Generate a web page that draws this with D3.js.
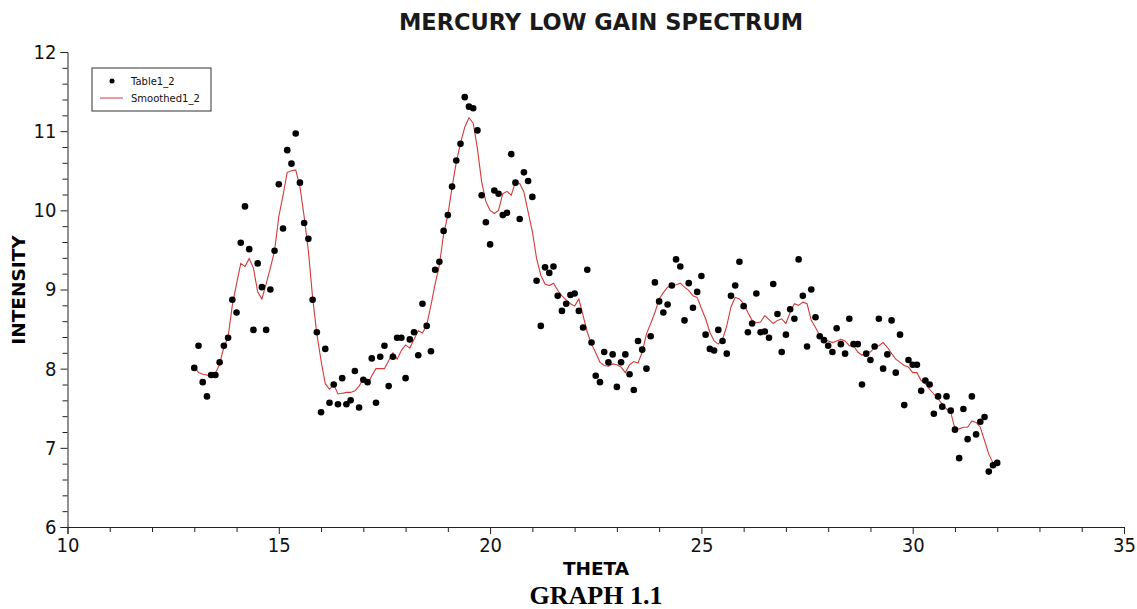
<!DOCTYPE html>
<html>
<head>
<meta charset="utf-8">
<script src="https://cdn.jsdelivr.net/npm/d3@7"></script>
<style>
  body { margin: 0; background: #fff; }
  svg { display: block; }
</style>
</head>
<body>
<main></main>
<script>
// data
let theta = [
  13.0, 13.1, 13.2, 13.3, 13.4, 13.5, 13.6, 13.7, 13.8, 13.9,
  14.0, 14.1, 14.2, 14.3, 14.4, 14.5, 14.6, 14.7, 14.8, 14.9,
  15.0, 15.1, 15.2, 15.3, 15.4, 15.5, 15.6, 15.7, 15.8, 15.9,
  16.0, 16.1, 16.2, 16.3, 16.4, 16.5, 16.6, 16.7, 16.8, 16.9,
  17.0, 17.1, 17.2, 17.3, 17.4, 17.5, 17.6, 17.7, 17.8, 17.9,
  18.0, 18.1, 18.2, 18.3, 18.4, 18.5, 18.6, 18.7, 18.8, 18.9,
  19.0, 19.1, 19.2, 19.3, 19.4, 19.5, 19.6, 19.7, 19.8, 19.9,
  20.0, 20.1, 20.2, 20.3, 20.4, 20.5, 20.6, 20.7, 20.8, 20.9,
  21.0, 21.1, 21.2, 21.3, 21.4, 21.5, 21.6, 21.7, 21.8, 21.9,
  22.0, 22.1, 22.2, 22.3, 22.4, 22.5, 22.6, 22.7, 22.8, 22.9,
  23.0, 23.1, 23.2, 23.3, 23.4, 23.5, 23.6, 23.7, 23.8, 23.9,
  24.0, 24.1, 24.2, 24.3, 24.4, 24.5, 24.6, 24.7, 24.8, 24.9,
  25.0, 25.1, 25.2, 25.3, 25.4, 25.5, 25.6, 25.7, 25.8, 25.9,
  26.0, 26.1, 26.2, 26.3, 26.4, 26.5, 26.6, 26.7, 26.8, 26.9,
  27.0, 27.1, 27.2, 27.3, 27.4, 27.5, 27.6, 27.7, 27.8, 27.9,
  28.0, 28.1, 28.2, 28.3, 28.4, 28.5, 28.6, 28.7, 28.8, 28.9,
  29.0, 29.1, 29.2, 29.3, 29.4, 29.5, 29.6, 29.7, 29.8, 29.9,
  30.0, 30.1, 30.2, 30.3, 30.4, 30.5, 30.6, 30.7, 30.8, 30.9,
  31.0, 31.1, 31.2, 31.3, 31.4, 31.5, 31.6, 31.7, 31.8, 31.9,
  32.0
]

// Table1_2 (dots)
let table1_2 = [
  8.01, 8.29, 7.83, 7.65, 7.92, 7.92, 8.08, 8.29, 8.39, 8.87,
  8.71, 9.59, 10.05, 9.51, 8.49, 9.33, 9.03, 8.49, 9.00, 9.49,
  10.33, 9.77, 10.76, 10.59, 10.97, 10.35, 9.84, 9.64, 8.87, 8.46,
  7.45, 8.25, 7.57, 7.80, 7.55, 7.88, 7.55, 7.60, 7.97, 7.51,
  7.86, 7.83, 8.13, 7.57, 8.15, 8.29, 7.78, 8.15, 8.39, 8.39,
  7.88, 8.37, 8.46, 8.17, 8.82, 8.54, 8.22, 9.25, 9.35, 9.74,
  9.94, 10.30, 10.63, 10.84, 11.43, 11.31, 11.29, 11.01, 10.19, 9.85,
  9.57, 10.25, 10.21, 9.94, 9.97, 10.71, 10.35, 9.89, 10.48, 10.37,
  10.17, 9.11, 8.54, 9.28, 9.21, 9.29, 8.92, 8.73, 8.82, 8.93,
  8.95, 8.73, 8.52, 9.25, 8.33, 7.91, 7.83, 8.21, 8.08, 8.18,
  7.77, 8.08, 8.18, 7.93, 7.73, 8.35, 8.24, 8.00, 8.41, 9.09,
  8.85, 8.71, 8.81, 9.05, 9.38, 9.29, 8.61, 9.08, 8.77, 8.97,
  9.17, 8.43, 8.25, 8.23, 8.49, 8.35, 8.19, 8.92, 9.05, 9.35,
  8.79, 8.46, 8.57, 8.95, 8.46, 8.47, 8.39, 9.07, 8.69, 8.21,
  8.43, 8.75, 8.63, 9.38, 8.92, 8.28, 9.00, 8.65, 8.41, 8.36,
  8.29, 8.21, 8.51, 8.31, 8.19, 8.63, 8.31, 8.31, 7.80, 8.19,
  8.11, 8.28, 8.63, 8.00, 8.18, 8.61, 7.95, 8.43, 7.54, 8.11,
  8.05, 8.05, 7.72, 7.85, 7.80, 7.43, 7.65, 7.52, 7.65, 7.47,
  7.23, 6.87, 7.49, 7.11, 7.65, 7.17, 7.33, 7.39, 6.70, 6.78,
  6.81
]

// Smoothed1_2 (red line)
let smoothed1_2 = [
  8.03, 7.95, 7.93, 7.92, 7.89, 7.94, 8.06, 8.27, 8.40, 8.80,
  9.07, 9.33, 9.29, 9.39, 9.27, 8.97, 8.88, 9.07, 9.27, 9.49,
  9.92, 10.19, 10.48, 10.50, 10.51, 10.30, 9.92, 9.49, 8.90, 8.44,
  8.10, 7.81, 7.74, 7.80, 7.68, 7.69, 7.70, 7.70, 7.72, 7.78,
  7.87, 7.80, 7.91, 8.00, 8.00, 8.00, 8.10, 8.20, 8.12, 8.23,
  8.30, 8.26, 8.37, 8.48, 8.45, 8.55, 8.80, 9.07, 9.31, 9.70,
  9.94, 10.29, 10.61, 10.85, 11.05, 11.17, 11.10, 10.78, 10.36, 10.11,
  10.00, 9.96, 10.00, 10.21, 10.24, 10.19, 10.36, 10.34, 10.23, 9.98,
  9.73, 9.39, 9.18, 9.07, 9.05, 9.08, 8.99, 8.92, 8.87, 8.82,
  8.79, 8.88, 8.67, 8.46, 8.31, 8.20, 8.08, 8.04, 8.03, 8.06,
  8.05, 8.02, 7.95, 8.05, 8.09, 8.07, 8.21, 8.44, 8.57, 8.71,
  8.88, 8.96, 9.03, 9.05, 9.06, 9.08, 9.03, 8.99, 8.92, 8.90,
  8.76, 8.63, 8.46, 8.35, 8.31, 8.37, 8.54, 8.78, 8.90, 8.88,
  8.82, 8.71, 8.61, 8.58, 8.59, 8.67, 8.62, 8.57, 8.61, 8.63,
  8.57, 8.71, 8.82, 8.80, 8.84, 8.82, 8.61, 8.52, 8.42, 8.37,
  8.35, 8.33, 8.35, 8.37, 8.35, 8.29, 8.29, 8.21, 8.17, 8.21,
  8.21, 8.27, 8.29, 8.33, 8.27, 8.19, 8.12, 8.08, 8.04, 8.02,
  7.95, 7.95, 7.85, 7.81, 7.74, 7.68, 7.62, 7.55, 7.49, 7.45,
  7.24, 7.24, 7.26, 7.26, 7.34, 7.32, 7.26, 7.09, 6.92, 6.81,
  6.80
]

let xTicks = [10, 15, 20, 25, 30, 35]
let yTicks = [6, 7, 8, 9, 10, 11, 12]
let seriesNames = ["Table1_2", "Smoothed1_2"]

let width = 1137
let height = 609
let lineColor = "#d33b3b"
let tickFont = "'DejaVu Sans Condensed', 'DejaVu Sans', sans-serif"

let svg = d3.select('main')
    .append('svg')
    .attr('width', width)
    .attr('height', height)

let x = d3.scaleLinear().domain([10, 35]).range([67.5, 1124])
let y = d3.scaleLinear().domain([6, 12]).range([527, 52])

// x axis
let xAxis = svg.append("g")
    .attr("transform", "translate(0," + y(6) + ")")
    .call(d3.axisBottom(x).tickValues(xTicks).tickSize(7).tickPadding(4).tickFormat(d3.format("d")))
xAxis.append("g")
    .call(d3.axisBottom(x).tickValues(d3.range(10, 36, 1).filter(function (d) { return d % 5 != 0 })).tickSize(5).tickFormat(""))
    .select(".domain").remove()

// y axis
let yAxis = svg.append("g")
    .attr("transform", "translate(" + x(10) + ",0)")
    .call(d3.axisLeft(y).tickValues(yTicks).tickSize(7).tickPadding(4).tickFormat(d3.format("d")))
yAxis.append("g")
    .call(d3.axisLeft(y).tickValues(d3.range(6, 12, 0.2).filter(function (d) { return Math.abs(d - Math.round(d)) > 0.01 })).tickSize(5).tickFormat(""))
    .select(".domain").remove()

svg.selectAll(".domain, .tick line")
    .attr("stroke", "#222")
    .attr("stroke-width", 1)
svg.selectAll(".tick text")
    .attr("fill", "#111")
    .style("font-family", tickFont)
    .style("font-size", "20px")

// smoothed line
let pts = theta.map(function (t, i) { return [t, table1_2[i], smoothed1_2[i]] })

let line = d3.line()
    .x(function (d) { return x(d[0]) })
    .y(function (d) { return y(d[2]) })

svg.append("path")
    .datum(pts)
    .attr("d", line)
    .attr("fill", "none")
    .attr("stroke", lineColor)
    .attr("stroke-width", 1.1)

// dots
svg.append("g")
    .selectAll("circle")
    .data(pts)
    .enter()
    .append("circle")
    .attr("cx", function (d) { return x(d[0]) })
    .attr("cy", function (d) { return y(d[1]) })
    .attr("r", 3.3)
    .style("fill", "#000")

// titles
svg.append("text")
    .attr("x", 601)
    .attr("y", 30)
    .attr("text-anchor", "middle")
    .style("font-family", "'DejaVu Sans', sans-serif")
    .style("font-weight", "bold")
    .style("font-size", "22.5px")
    .attr("fill", "#1a1a1a")
    .text("MERCURY LOW GAIN SPECTRUM")

svg.append("text")
    .attr("x", 596)
    .attr("y", 575)
    .attr("text-anchor", "middle")
    .style("font-family", "'DejaVu Sans', sans-serif")
    .style("font-weight", "bold")
    .style("font-size", "18.5px")
    .text("THETA")

svg.append("text")
    .attr("transform", "translate(25,290) rotate(-90)")
    .attr("text-anchor", "middle")
    .style("font-family", "'DejaVu Sans', sans-serif")
    .style("font-weight", "bold")
    .style("font-size", "18.5px")
    .text("INTENSITY")

svg.append("text")
    .attr("x", 596)
    .attr("y", 604)
    .attr("text-anchor", "middle")
    .style("font-family", "'Liberation Serif', 'Times New Roman', serif")
    .style("font-weight", "bold")
    .style("font-size", "26px")
    .text("GRAPH 1.1")

// legend
let legend = svg.append("g")
    .attr("transform", "translate(92,68)")

legend.append("rect")
    .attr("width", 119)
    .attr("height", 43)
    .attr("fill", "#fff")
    .attr("stroke", "#333")
    .attr("stroke-width", 1)

legend.append("circle")
    .attr("cx", 20)
    .attr("cy", 13)
    .attr("r", 2.5)
    .style("fill", "#000")

legend.append("line")
    .attr("x1", 8)
    .attr("x2", 31)
    .attr("y1", 30)
    .attr("y2", 30)
    .attr("stroke", lineColor)
    .attr("stroke-width", 1)

legend.selectAll("text")
    .data(seriesNames)
    .enter()
    .append("text")
    .attr("x", 39)
    .attr("y", function (d, i) { return 17 + i * 17 })
    .style("font-family", "'DejaVu Sans', sans-serif")
    .style("font-size", "10px")
    .attr("fill", "#111")
    .text(function (d) { return d })
</script>
</body>
</html>
